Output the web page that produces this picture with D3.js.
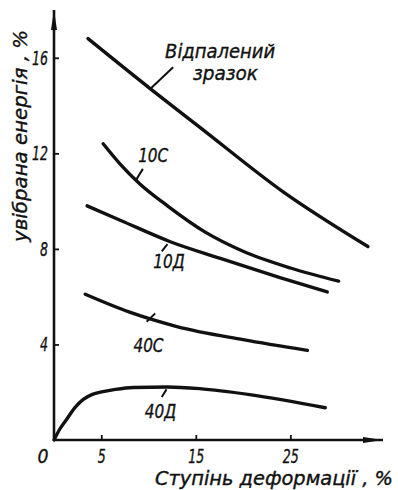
<!DOCTYPE html>
<html>
<head>
<meta charset="utf-8">
<script src="https://cdn.jsdelivr.net/npm/d3@7"></script>
<style>
  body { margin: 0; background: #fff; }
  svg text { font-family: 'DejaVu Sans Condensed', 'DejaVu Sans', sans-serif; font-style: italic; fill: #111; stroke: #111; stroke-width: 0.35; }
</style>
</head>
<body>
<svg id="chart" width="398" height="490"></svg>
<script>
// curves: [deformation %, absorbed energy %]
const annealed = [[3.6,16.8],[10.2,14.7],[15.4,13.1],[24.2,10.4],[33.2,8.1]];
const s10C = [[5.2,12.4],[7,11.55],[9,10.75],[12,9.8],[16,8.7],[20,7.9],[25,7.2],[30.1,6.65]];
const s10D = [[3.5,9.8],[7.0,9.2],[12.3,8.3],[17.6,7.6],[23.9,6.8],[28.9,6.2]];
const s40C = [[3.3,6.1],[8,5.35],[13,4.75],[20,4.2],[26.8,3.75]];
const s40D = [[0,0],[0.6,0.45],[1.4,0.9],[2.2,1.35],[3.1,1.7],[4.0,1.9],[4.9,2.0],[6.5,2.12],[8.4,2.2],[12,2.22],[15.4,2.15],[20.7,1.9],[28.7,1.35]];

const xTicks = [5, 15, 25];
const yTicks = [4, 8, 12, 16];

// curve labels and their leader lines (data coords)
const labels = [
  { text: 'Відпалений', x: 11.75, y: 16.0, w: 110 },
  { text: 'зразок', x: 14.7, y: 15.08, w: 65 },
  { text: '10С', x: 8.9, y: 11.64 },
  { text: '10Д', x: 10.5, y: 7.2 },
  { text: '40С', x: 8.4, y: 3.69 },
  { text: '40Д', x: 9.6, y: 0.92 }
];
const leaders = [
  [[10.2,14.7],[12.6,15.6]],
  [[8.7,10.9],[9.4,11.35]],
  [[11.4,7.9],[12.0,8.2]],
  [[9.8,4.95],[10.7,5.3]],
  [[11.4,1.8],[11.9,2.12]]
];

const svg = d3.select('#chart');
const x = d3.scaleLinear().domain([0, 34.8]).range([54, 383]);
const y = d3.scaleLinear().domain([0, 18]).range([440, 10]);

svg.append('defs').append('marker')
  .attr('id', 'arrow')
  .attr('viewBox', '0 0 20 8')
  .attr('refX', 20).attr('refY', 4)
  .attr('markerWidth', 20).attr('markerHeight', 8)
  .attr('markerUnits', 'userSpaceOnUse')
  .attr('orient', 'auto')
  .append('path')
  .attr('d', 'M0,1 L20,4 L0,7 Z')
  .attr('fill', '#111');

// axes lines with arrows
svg.append('line')
  .attr('x1', x(0)).attr('y1', y(0)).attr('x2', x(0)).attr('y2', y(18))
  .attr('stroke', '#111').attr('stroke-width', 2.6)
  .attr('marker-end', 'url(#arrow)');
svg.append('line')
  .attr('x1', x(0)).attr('y1', y(0)).attr('x2', x(34.8)).attr('y2', y(0))
  .attr('stroke', '#111').attr('stroke-width', 2.6)
  .attr('marker-end', 'url(#arrow)');

const yAxis = svg.append('g')
  .attr('transform', `translate(${x(0)},0)`)
  .call(d3.axisLeft(y).tickValues(yTicks).tickSizeInner(-5).tickSizeOuter(0).tickPadding(6));
const xAxis = svg.append('g')
  .attr('transform', `translate(0,${y(0)})`)
  .call(d3.axisBottom(x).tickValues(xTicks).tickSizeInner(-5).tickSizeOuter(0).tickPadding(9));

[yAxis, xAxis].forEach(g => {
  g.select('.domain').remove();
  g.attr('font-family', null);
  g.selectAll('.tick line').attr('stroke', '#111').attr('stroke-width', 1.8);
  g.selectAll('.tick text')
    .attr('font-size', 20)
    .attr('fill', '#111')
    .attr('textLength', d => String(d).length * 8)
    .attr('lengthAdjust', 'spacingAndGlyphs');
});

// origin label
svg.append('text')
  .attr('x', x(0) - 11).attr('y', y(0) + 23)
  .attr('text-anchor', 'middle')
  .attr('font-size', 20)
  .attr('textLength', 11).attr('lengthAdjust', 'spacingAndGlyphs')
  .text('0');

// curves
const line = d3.line()
  .x(d => x(d[0])).y(d => y(d[1]))
  .curve(d3.curveMonotoneX);

[annealed, s10C, s10D, s40C, s40D].forEach(s => {
  svg.append('path')
    .attr('d', line(s))
    .attr('fill', 'none')
    .attr('stroke', '#111')
    .attr('stroke-width', 3.4)
    .attr('stroke-linecap', 'round');
});

// leader lines
leaders.forEach(l => {
  svg.append('line')
    .attr('x1', x(l[0][0])).attr('y1', y(l[0][1]))
    .attr('x2', x(l[1][0])).attr('y2', y(l[1][1]))
    .attr('stroke', '#111').attr('stroke-width', 2);
});

// curve labels
labels.forEach(l => {
  const t = svg.append('text')
    .attr('x', x(l.x)).attr('y', y(l.y))
    .attr('font-size', 20)
    .text(l.text);
  const w = l.w || t.node().getComputedTextLength() * 0.85;
  t.attr('textLength', w).attr('lengthAdjust', 'spacingAndGlyphs');
});

// axis titles
svg.append('text')
  .attr('transform', `translate(27,${y(0) - 198}) rotate(-90)`)
  .attr('font-size', 19)
  .attr('textLength', 212).attr('lengthAdjust', 'spacingAndGlyphs')
  .text('увібрана енергія , %');

svg.append('text')
  .attr('x', 155).attr('y', 485)
  .attr('font-size', 19)
  .attr('textLength', 238).attr('lengthAdjust', 'spacingAndGlyphs')
  .text('Ступінь  деформації , %');
</script>
</body>
</html>
